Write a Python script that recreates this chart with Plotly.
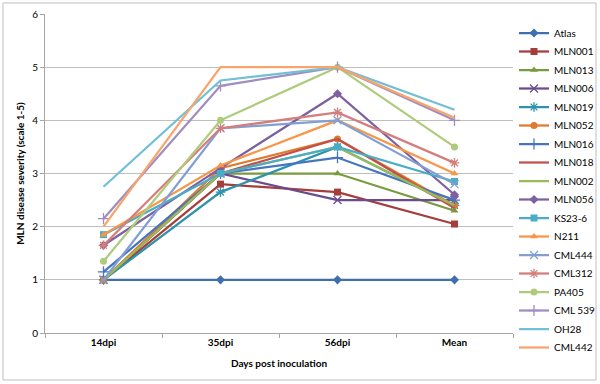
import plotly.graph_objects as go

categories = ["14dpi", "35dpi", "56dpi", "Mean"]
series_names = ["Atlas", "MLN001", "MLN013", "MLN006", "MLN019", "MLN052", "MLN016",
                "MLN018", "MLN002", "MLN056", "KS23-6", "N211", "CML444", "CML312",
                "PA405", "CML 539", "OH28", "CML442"]

atlas = [1.0, 1.0, 1.0, 1.0]
mln001 = [1.0, 2.8, 2.65, 2.05]
mln013 = [1.0, 3.0, 3.0, 2.3]
mln006 = [1.0, 3.0, 2.5, 2.5]
mln019 = [1.0, 2.65, 3.5, 2.4]
mln052 = [1.0, 3.1, 3.65, 2.4]
mln016 = [1.15, 3.0, 3.3, 2.5]
mln018 = [1.0, 3.0, 3.65, 2.35]
mln002 = [1.0, 3.0, 3.5, 2.4]
mln056 = [1.65, 3.1, 4.5, 2.6]
ks23_6 = [1.85, 3.0, 3.5, 2.85]
n211 = [1.85, 3.15, 4.0, 3.0]
cml444 = [1.0, 3.85, 4.0, 2.8]
cml312 = [1.65, 3.85, 4.15, 3.2]
pa405 = [1.35, 4.0, 5.0, 3.5]
cml539 = [2.15, 4.65, 5.0, 4.0]
oh28 = [2.75, 4.75, 5.0, 4.2]
cml442 = [2.0, 5.0, 5.0, 4.05]

values = [atlas, mln001, mln013, mln006, mln019, mln052, mln016, mln018, mln002,
          mln056, ks23_6, n211, cml444, cml312, pa405, cml539, oh28, cml442]

colors = ["#3F6FAF", "#A53E3B", "#7A9A3E", "#6A4C8E", "#2E92AA", "#E07A2C",
          "#4675C0", "#C0504D", "#9BBB59", "#7D60A0", "#4BACC6", "#F79646",
          "#7F9FD5", "#D47E7C", "#AECB7C", "#A18EC0", "#72BFD6", "#F9A46C"]
symbols = ["diamond", "square", "triangle-up", "x-thin", "asterisk", "circle",
           "cross-thin", None, None, "diamond", "square", "triangle-up", "x-thin",
           "asterisk", "circle", "cross-thin", None, None]

W, H = 600, 384
ML, MR, MT, MB = 45, 87, 14, 51
PW, PH = W - ML - MR, H - MT - MB

fig = go.Figure()
legends = {}
for i, (name, vals, col, sym) in enumerate(zip(series_names, values, colors, symbols)):
    lg = "legend" if i == 0 else f"legend{i + 1}"
    if sym is None:
        fig.add_trace(go.Scatter(x=categories, y=vals, name=name, mode="lines",
                                 line=dict(color=col, width=2.25), legend=lg))
    else:
        thin = sym in ("x-thin", "asterisk", "cross-thin")
        fig.add_trace(go.Scatter(
            x=categories, y=vals, name=name, mode="lines+markers",
            line=dict(color=col, width=2.25), legend=lg,
            marker=dict(symbol=sym, size=8 if thin else 7, color=col,
                        line=dict(color=col, width=1.3 if thin else 0))))
    center_px = 33 + 18.5 * i
    legends[lg] = dict(
        x=(514 - ML) / PW, y=(MT + PH - center_px) / PH,
        xanchor="left", yanchor="middle",
        font=dict(size=10), bgcolor="rgba(0,0,0,0)", itemwidth=30,
    )

fig.update_layout(
    width=W, height=H,
    margin=dict(l=ML, r=MR, t=MT, b=MB, autoexpand=False),
    paper_bgcolor="white", plot_bgcolor="white",
    font=dict(family="Lato, Liberation Sans, sans-serif", size=10, color="#000000"),
    showlegend=True,
    xaxis=dict(
        type="category", categoryorder="array", categoryarray=categories,
        showgrid=False, showline=True, linecolor="#A6A6A6", linewidth=1,
        ticks="outside", tickson="boundaries", ticklen=4, tickcolor="#A6A6A6",
        tickfont=dict(size=10, family="Lato, sans-serif", weight="bold"),
        title=dict(text="<b>Days post inoculation</b>", font=dict(size=10), standoff=12),
        range=[-0.5, 3.5],
    ),
    yaxis=dict(
        range=[0, 6], dtick=1, showgrid=True, gridcolor="#BFBFBF", gridwidth=1,
        showline=True, linecolor="#A6A6A6", linewidth=1,
        ticks="outside", ticklen=4, tickcolor="#A6A6A6",
        tickfont=dict(size=10), zeroline=False,
        title=dict(text="<b>MLN disease severity (scale 1-5)</b>", font=dict(size=10), standoff=5),
    ),
    shapes=[dict(type="rect", xref="paper", yref="paper",
                 x0=(3 - ML) / PW, x1=(596 - ML) / PW,
                 y0=(MT + PH - 380) / PH, y1=(MT + PH - 3) / PH,
                 line=dict(color="#BFBFBF", width=1), fillcolor="rgba(0,0,0,0)",
                 layer="below")],
    **legends,
)

fig.write_html("out.html", config={"displayModeBar": False},
               post_script="document.body.style.margin='0px';")
